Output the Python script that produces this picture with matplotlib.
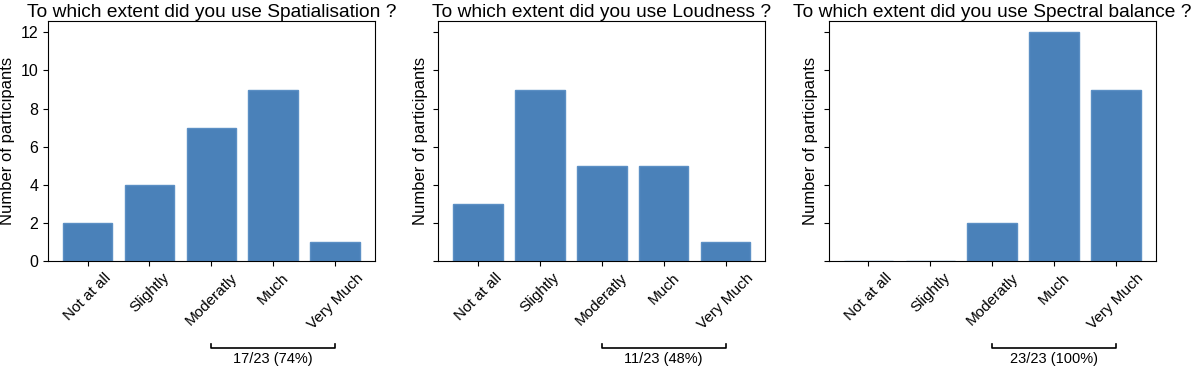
import matplotlib
matplotlib.use("Agg")
from matplotlib import pyplot as plt

plt.rcParams['font.family'] = ['Liberation Sans', 'DejaVu Sans']

categories = ["Not at all", "Slightly", "Moderatly", "Much", "Very Much"]
features = ["Spatialisation", "Loudness", "Spectral balance"]
spatialisation = [2, 4, 7, 9, 1]
loudness = [3, 9, 5, 5, 1]
spectral = [0, 0, 2, 12, 9]
counts = [spatialisation, loudness, spectral]

fig, axes = plt.subplots(1, 3, figsize=(12, 3.68), dpi=100, sharey=True)
fig.subplots_adjust(left=0.04, right=0.963, top=0.943, bottom=0.291, wspace=0.195)

for ax, name, vals in zip(axes, features, counts):
    x = range(len(categories))
    ax.bar(x, vals, width=0.8, color="#4a81b9", edgecolor="#5b8fc4", linewidth=1)
    ax.set_xticks(list(x))
    ax.set_xticklabels(categories, rotation=45, fontsize=11)
    ax.set_ylabel("Number of participants", fontsize=12)
    ax.set_title("To which extent did you use %s ?" % name, fontsize=13.8, pad=3)
    ax.tick_params(axis="y", labelsize=11.5)

    # bracket over the upper three categories
    total = sum(vals)
    upper = sum(vals[2:])
    trans = ax.get_xaxis_transform()
    ax.plot([2, 2, 4, 4], [-0.345, -0.362, -0.362, -0.345], color="k", lw=1.2,
            transform=trans, clip_on=False)
    ax.text(3, -0.378, "%d/%d (%d%%)" % (upper, total, round(100.0 * upper / total)),
            transform=trans, ha="center", va="top", fontsize=10.5)

axes[0].set_yticks([0, 2, 4, 6, 8, 10, 12])
axes[0].set_ylim(0, 12.6)

plt.savefig("out.png")
